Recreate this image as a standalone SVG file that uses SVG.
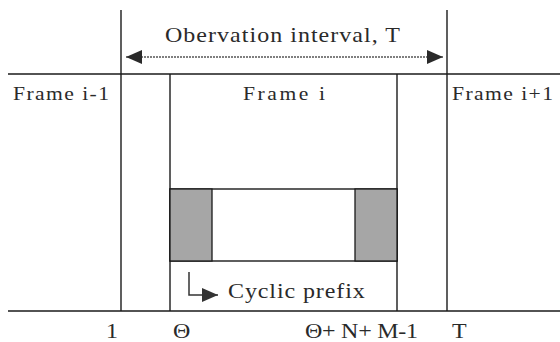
<svg xmlns="http://www.w3.org/2000/svg" width="560" height="342" viewBox="0 0 560 342">
<defs>
<style>
.ln{stroke:#1a1a1a;stroke-width:1.4;fill:none}
.t{font-family:"Liberation Serif","Times New Roman",serif;fill:#2a2a2a}
.sh{fill:#a6a6a6;stroke:#1a1a1a;stroke-width:1.3}
</style>
<marker id="ah" viewBox="0 0 16 14" refX="16" refY="7" markerWidth="16" markerHeight="14" markerUnits="userSpaceOnUse" orient="auto-start-reverse">
<path d="M0,0 L16,7 L0,14 Z" fill="#2a2a2a"/>
</marker>
<marker id="ah2" viewBox="0 0 16 14" refX="16" refY="7" markerWidth="16" markerHeight="14" markerUnits="userSpaceOnUse" orient="auto">
<path d="M0,0 L16,7 L0,14 Z" fill="#333"/>
</marker>
</defs>
<rect width="560" height="342" fill="#fff"/>
<g id="grid">
<line class="ln" x1="8" y1="74" x2="560" y2="74"/>
<line class="ln" x1="8" y1="311" x2="560" y2="311"/>
<line class="ln" x1="121" y1="10" x2="121" y2="311"/>
<line class="ln" x1="447" y1="10" x2="447" y2="311"/>
</g>
<g id="frame-prev"><text class="t" transform="translate(13,100) scale(1.2,1)" font-size="18" textLength="80" lengthAdjust="spacing">Frame i-1</text></g>
<g id="frame-i">
<line class="ln" x1="170" y1="74" x2="170" y2="311"/>
<line class="ln" x1="397" y1="74" x2="397" y2="311"/>
<text class="t" transform="translate(243,100) scale(1.2,1)" font-size="18" textLength="68.3" lengthAdjust="spacing">Frame i</text>
</g>
<g id="frame-next"><text class="t" transform="translate(452,100) scale(1.2,1)" font-size="18" textLength="84.2" lengthAdjust="spacing">Frame i+1</text></g>
<g id="symbol">
<rect x="170" y="189" width="227" height="72" class="ln"/>
<rect class="sh" x="170" y="189" width="42" height="72"/>
<rect class="sh" x="355" y="189" width="42" height="72"/>
</g>
<g id="connectors">
<line x1="126" y1="57" x2="443" y2="57" stroke="#555" stroke-width="1.6" stroke-dasharray="2 1" marker-start="url(#ah)" marker-end="url(#ah)"/>
<path d="M189,272 V295 H218" fill="none" stroke="#333" stroke-width="1.5" marker-end="url(#ah2)"/>
</g>
<g id="labels">
<text class="t" transform="translate(165,42) scale(1.2,1)" font-size="20" textLength="195.8" lengthAdjust="spacing">Obervation interval, T</text>
<text class="t" transform="translate(228,298) scale(1.2,1)" font-size="20" textLength="114" lengthAdjust="spacing">Cyclic prefix</text>
<text class="t" transform="translate(106,338) scale(1.2,1)" font-size="20">1</text>
<text class="t" transform="translate(173,338) scale(1.2,1)" font-size="20">Θ</text>
<text class="t" transform="translate(305,338) scale(1.2,1)" font-size="20" textLength="94.2" lengthAdjust="spacing">Θ+ N+ M-1</text>
<text class="t" transform="translate(452,338) scale(1.2,1)" font-size="20">T</text>
</g>
</svg>
